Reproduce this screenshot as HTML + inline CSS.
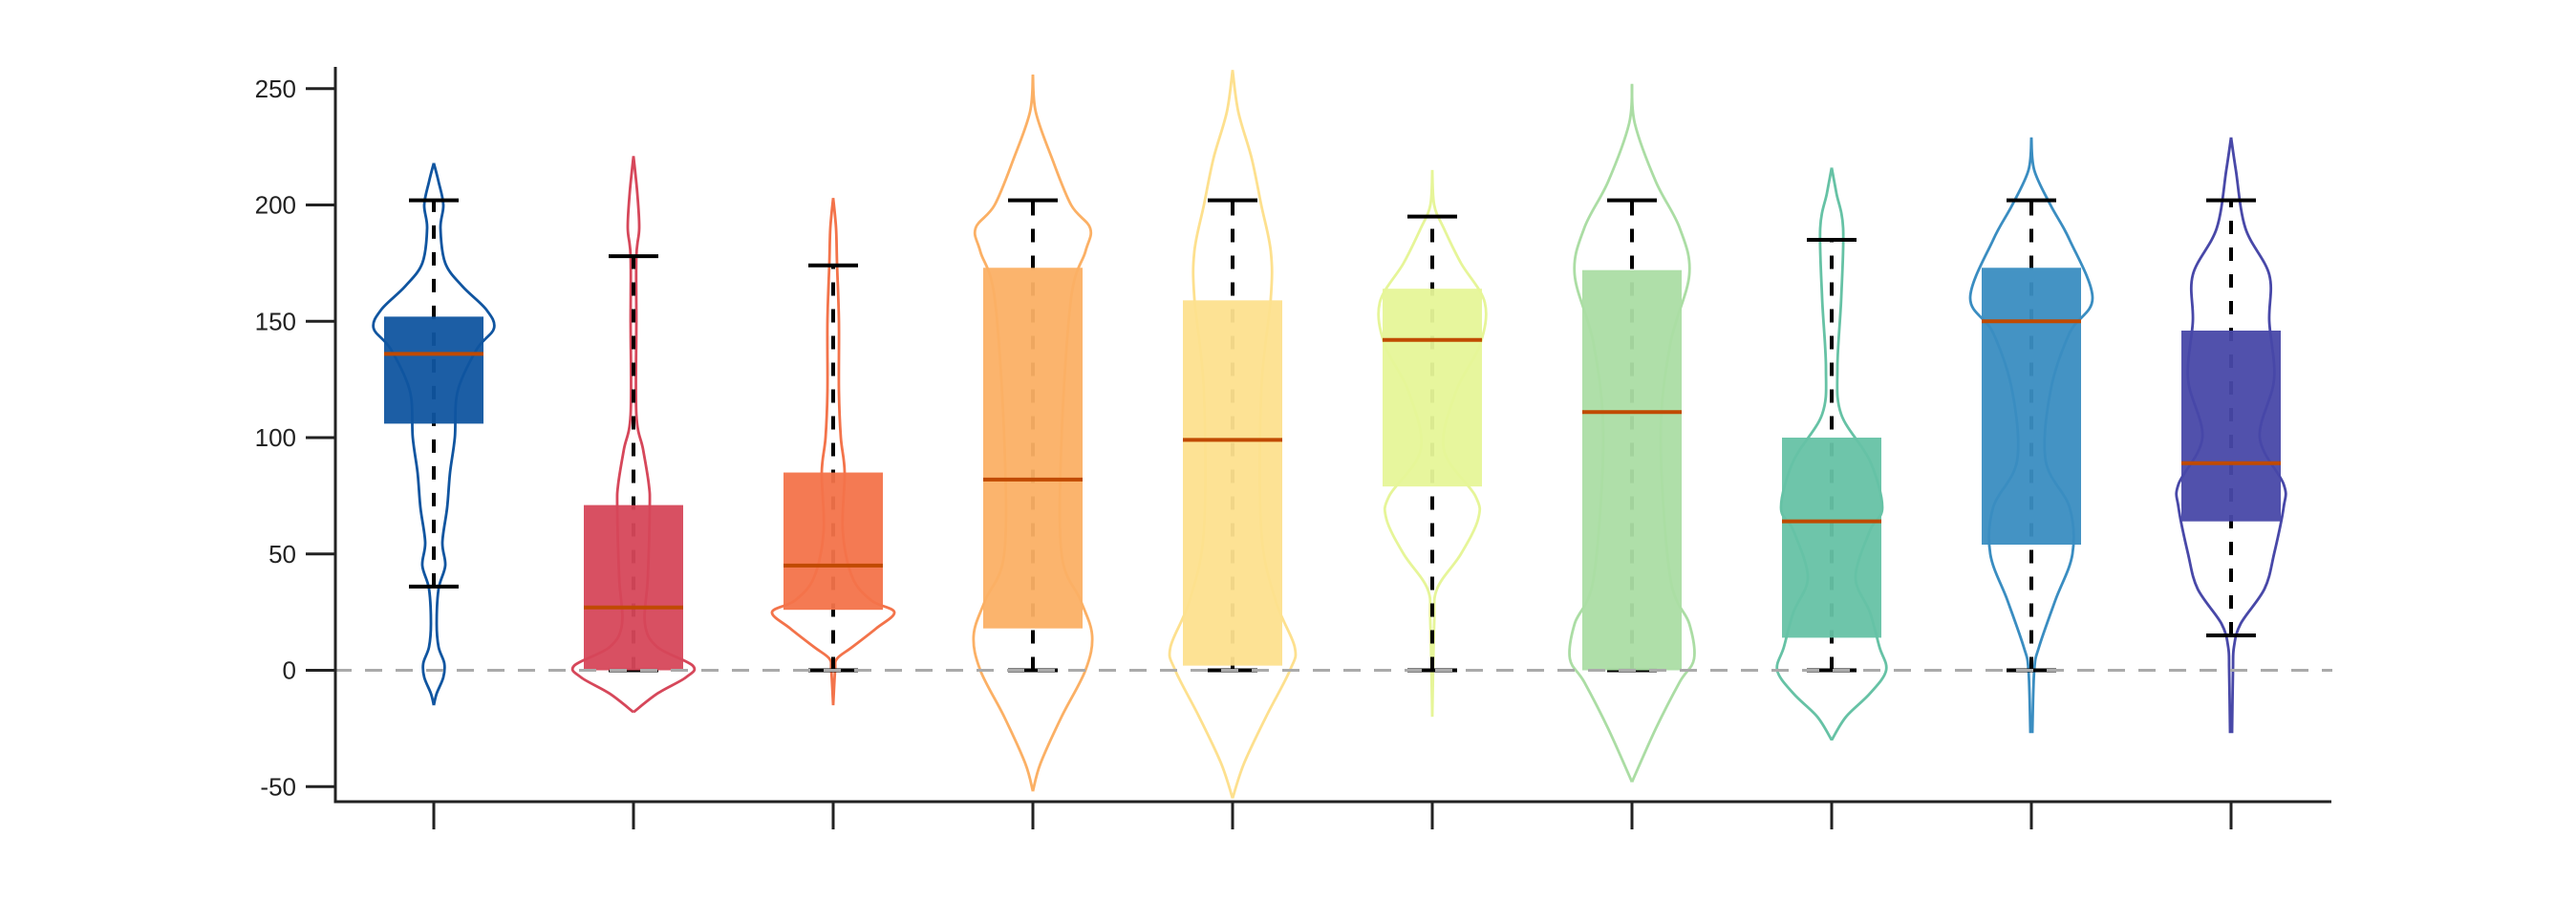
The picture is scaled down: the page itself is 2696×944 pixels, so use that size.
<!DOCTYPE html>
<html><head><meta charset="utf-8"><style>
html,body{margin:0;padding:0;background:#fff;}
svg{display:block;font-family:"Liberation Sans",sans-serif;}
</style></head><body>
<svg id="chart" width="2696" height="944" viewBox="0 0 2696 944" xmlns="http://www.w3.org/2000/svg">
<g id="violins"></g>
<g id="boxes"></g>
<g id="axes"></g>
</svg>
<script>
const categories = [1,2,3,4,5,6,7,8,9,10];
const colors = ["#1055a0","#d6475a","#f3734a","#fbb065","#fde08e","#e6f598","#abdda4","#66c2a5","#3a8dc1","#4848a8"];
const q1 = [106,0,26,18,2,79,0,14,54,64];
const q3 = [152,71,85,173,159,164,172,100,173,146];
const medians = [136,27,45,82,99,142,111,64,150,89];
const whiskLo = [36,0,0,0,0,0,0,0,0,15];
const whiskHi = [202,178,174,202,202,195,202,185,202,202];
const yTicks = [-50,0,50,100,150,200,250];
// violin density profiles: values and half-widths
const vVals = [
 [218,210,200,190,175,165,155,147,138,120,100,85,70,55,45,35,20,10,3,-3,-10,-15],
 [221,205,190,178,150,110,95,80,70,40,20,10,2,-3,-10,-18],
 [203,190,175,150,120,100,85,60,40,30,25,18,10,5,0,-15],
 [256,240,220,200,190,180,160,100,50,30,15,0,-20,-40,-52],
 [258,240,220,200,180,160,120,60,30,10,0,-20,-40,-55],
 [215,200,190,175,158,140,120,95,75,65,50,35,20,-20],
 [252,235,210,190,170,140,100,40,20,5,-5,-25,-48],
 [216,205,190,160,130,110,90,70,60,40,25,10,0,-10,-20,-30],
 [229,215,200,185,160,145,120,90,70,50,30,10,0,-27],
 [229,215,190,170,150,125,100,80,70,50,35,20,10,0,-27]
];
const vWidths = [
 [0,5,10,7,12,30,55,63,45,25,22,17,14,9,12,5,3,5,11,10,3,0],
 [0,4,6,3,3,3,10,16,17,15,12,25,62,55,25,0],
 [0,3,4,6,6,8,12,10,20,40,64,45,20,4,2,0],
 [0,3,20,40,60,55,40,30,30,50,62,55,30,8,0],
 [0,6,20,30,40,40,30,30,45,65,60,35,12,0],
 [0,2,12,30,55,50,25,12,45,48,30,5,2,0],
 [0,3,25,50,60,40,30,40,60,65,50,25,0],
 [0,5,12,10,6,10,40,53,40,25,40,50,57,40,15,0],
 [0,3,20,40,64,40,20,15,40,43,25,8,3,1],
 [0,5,15,40,40,45,30,55,55,45,35,10,3,2,1]
];
const NS="http://www.w3.org/2000/svg";
const x0=454, dx=209, yZero=701.5, pxPerUnit=2.435;
const xs = i => x0 + i*dx;
const ys = v => yZero - v*pxPerUnit;
function mk(tag, attrs, parent){const e=document.createElementNS(NS,tag);for(const k in attrs)e.setAttribute(k,attrs[k]);parent.appendChild(e);return e;}
function smooth(pts){
  let d="M"+pts[0][0]+","+pts[0][1];
  for(let i=0;i<pts.length-1;i++){
    const p0=pts[Math.max(0,i-1)],p1=pts[i],p2=pts[i+1],p3=pts[Math.min(pts.length-1,i+2)];
    const c1=[p1[0]+(p2[0]-p0[0])/6,p1[1]+(p2[1]-p0[1])/6];
    const c2=[p2[0]-(p3[0]-p1[0])/6,p2[1]-(p3[1]-p1[1])/6];
    d+=" C"+c1[0]+","+c1[1]+" "+c2[0]+","+c2[1]+" "+p2[0]+","+p2[1];
  }
  return d;
}
const gV=document.getElementById('violins'), gB=document.getElementById('boxes'), gA=document.getElementById('axes');
const zl=mk('line',{x1:350,x2:2441,y1:ys(0),y2:ys(0),stroke:"#aaaaaa","stroke-width":3,"stroke-dasharray":"18 14"},gA);


categories.forEach((c,i)=>{
  const cx=xs(i);
  const right=vVals[i].map((v,k)=>[cx+vWidths[i][k],ys(v)]);
  const left=vVals[i].map((v,k)=>[cx-vWidths[i][k],ys(v)]);
  const vp=mk('path',{d:smooth(right)+" "+smooth(left),fill:"none",stroke:colors[i],"stroke-width":2.8},gV);
  
  
  const wl=mk('line',{x1:cx,x2:cx,y1:ys(whiskLo[i]),y2:ys(whiskHi[i]),stroke:"#000","stroke-width":4,"stroke-dasharray":"14 14"},gB);
  
  
  [whiskLo[i],whiskHi[i]].forEach((w,j)=>{
    const cap=mk('line',{x1:cx-26,x2:cx+26,y1:ys(w),y2:ys(w),stroke:"#000","stroke-width":4},gB);
    
    
  });
  const bx=mk('rect',{x:cx-52,y:ys(q3[i]),width:104,height:ys(q1[i])-ys(q3[i]),fill:colors[i],"fill-opacity":0.95},gB);
  
  
  const md=mk('line',{x1:cx-52,x2:cx+52,y1:ys(medians[i]),y2:ys(medians[i]),stroke:"#c04a00","stroke-width":4},gB);
  
  
  const xt=mk('line',{x1:cx,x2:cx,y1:839,y2:868,stroke:"#222","stroke-width":3},gA);
  
  
});
const ya=mk('line',{x1:351,x2:351,y1:70,y2:840.5,stroke:"#222","stroke-width":3},gA);


const xa=mk('line',{x1:349.5,x2:2440,y1:839,y2:839,stroke:"#222","stroke-width":3},gA);


yTicks.forEach(t=>{
  const tk=mk('line',{x1:320,x2:351,y1:ys(t),y2:ys(t),stroke:"#222","stroke-width":3},gA);
  
  
  const tl=mk('text',{x:310,y:ys(t)+9,"text-anchor":"end","font-size":26,fill:"#222"},gA);
  tl.textContent=t;
  
  
});
</script>
</body></html>
